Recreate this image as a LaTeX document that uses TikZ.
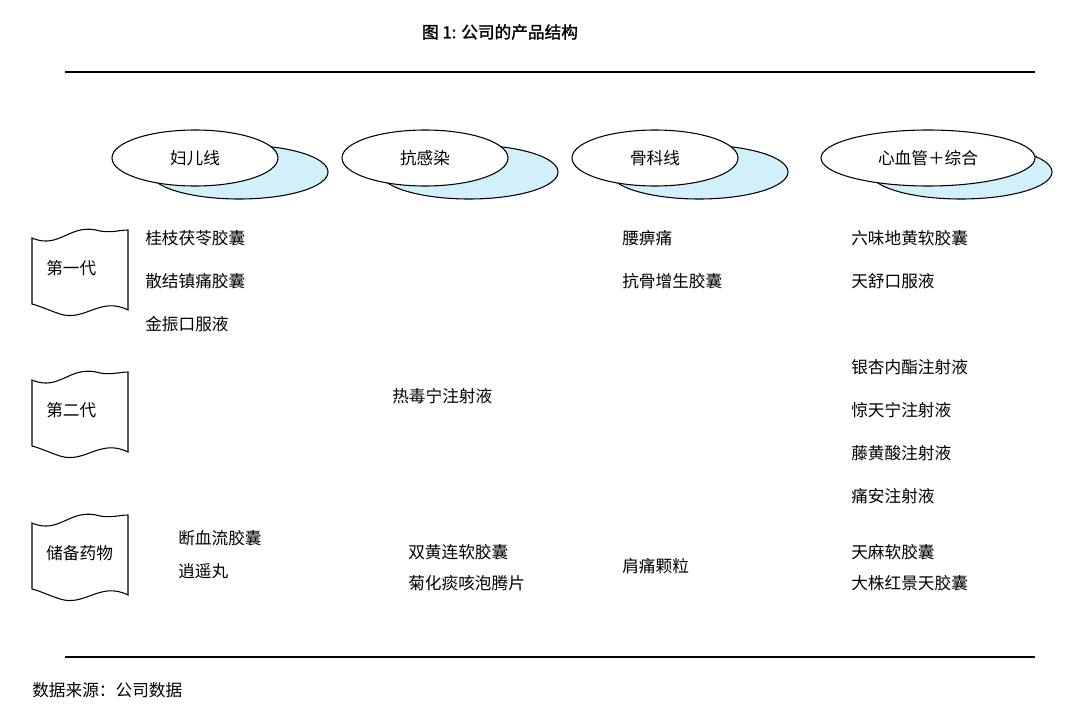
\documentclass[tikz,border=0pt]{standalone}
\usepackage{fontspec}
\setmainfont{Noto Sans CJK SC}
\newfontfamily\cjkb{Noto Sans CJK SC}[FakeBold=1.5]
\begin{document}
\begin{tikzpicture}[x=0.75pt,y=-0.75pt,
  lbl/.style={anchor=west,inner sep=0pt,font=\fontsize{12.5}{14}\selectfont},
  ctr/.style={inner sep=0pt,font=\fontsize{12.5}{14}\selectfont},
  frontell/.style={draw=black,fill=white,line width=0.8pt},
  backell/.style={draw=black,fill=cyan!18,line width=0.8pt},
  tape/.style={draw=black,fill=white,line width=0.8pt}]
\useasboundingbox (0,0) rectangle (1082,717);
\node[ctr,font=\cjkb\fontsize{12.5}{14}\selectfont] (title) at (500,32) {图 1:  公司的产品结构};
\draw[line width=0.8pt] (65,72) -- (1035,72);
\draw[line width=0.8pt] (65,657) -- (1035,657);
\node[lbl] (src) at (32,690) {数据来源：公司数据};
% ellipses
\foreach \fx/\bx/\frx/\brx/\t/\n in {195/239/83/89/妇儿线/a,425/469/83/89/抗感染/b,655/699/83/89/骨科线/c,928/961/107/91/心血管＋综合/d}{
  \path[backell] (\bx,172) ellipse [x radius=\brx, y radius=27];
  \path[frontell] (\fx,158) ellipse [x radius=\frx, y radius=28];
  \node[ctr] (e\n) at (\fx,158) {\t};
}
% tapes
\foreach \y/\t/\n in {230/第一代/g1,372/第二代/g2,515/储备药物/g3}{
  \path[tape] (32,\y+8) .. controls (60,\y+20) and (70,\y-8) .. (100,\y+1) .. controls (112,\y+3) and (120,\y) .. (128,\y)
   -- (128,\y+80) .. controls (100,\y+66) and (85,\y+92) .. (60,\y+84) .. controls (48,\y+80) and (40,\y+76) .. (32,\y+74) -- cycle;
  \node[lbl] (\n) at (46,\y+38) {\t};
}
\node[lbl] (t1) at (145,238) {桂枝茯苓胶囊};
\node[lbl] (t2) at (145,281) {散结镇痛胶囊};
\node[lbl] (t3) at (145,324) {金振口服液};
\node[lbl] (t4) at (622,238) {腰痹痛};
\node[lbl] (t5) at (622,281) {抗骨增生胶囊};
\node[lbl] (t6) at (851,238) {六味地黄软胶囊};
\node[lbl] (t7) at (851,281) {天舒口服液};
\node[lbl] (t8) at (392,396) {热毒宁注射液};
\node[lbl] (t9) at (851,367) {银杏内酯注射液};
\node[lbl] (t10) at (851,410) {惊天宁注射液};
\node[lbl] (t11) at (851,453) {藤黄酸注射液};
\node[lbl] (t12) at (851,496) {痛安注射液};
\node[lbl] (t13) at (178,538) {断血流胶囊};
\node[lbl] (t14) at (178,571) {逍遥丸};
\node[lbl] (t15) at (408,552) {双黄连软胶囊};
\node[lbl] (t16) at (408,583) {菊化痰咳泡腾片};
\node[lbl] (t17) at (622,566) {肩痛颗粒};
\node[lbl] (t18) at (851,552) {天麻软胶囊};
\node[lbl] (t19) at (851,583) {大株红景天胶囊};
\end{tikzpicture}
\end{document}
